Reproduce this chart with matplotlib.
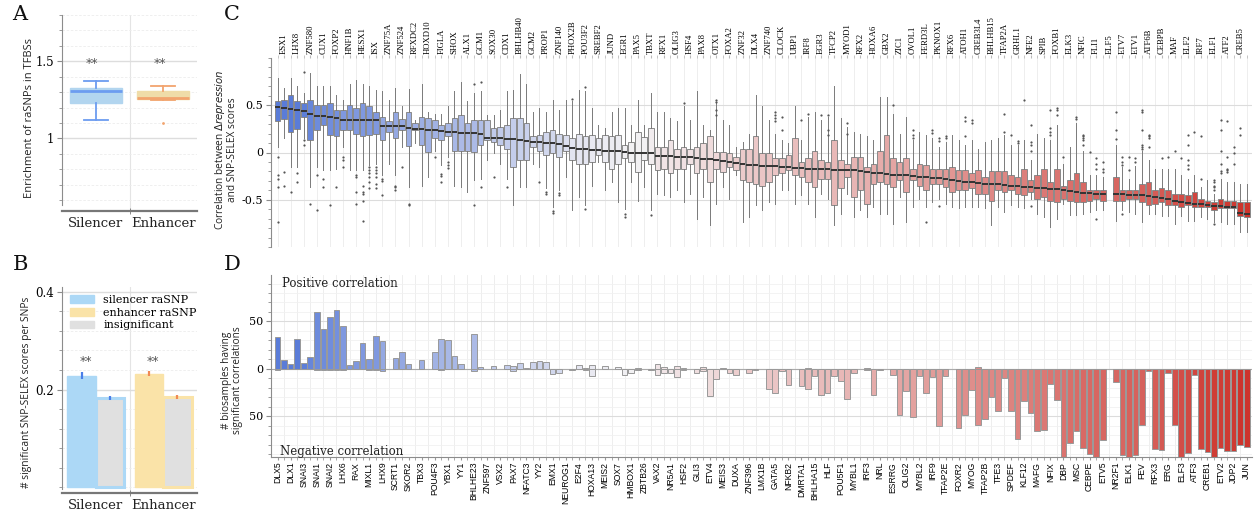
"""Repression-SNP panels: raSNP enrichment (A, B) and per-TF SNP-SELEX correlation (C, D)."""

import numpy as np
import matplotlib

matplotlib.use("Agg")
import matplotlib.pyplot as plt
from matplotlib.colors import LinearSegmentedColormap, TwoSlopeNorm
from matplotlib.ticker import MultipleLocator, FuncFormatter

# ---------------------------------------------------------------- data
GROUPS = ["Silencer", "Enhancer"]

# A: enrichment of raSNPs in TFBSs (box stats)
A_MED = [1.31, 1.265]
A_Q1 = [1.23, 1.255]
A_Q3 = [1.33, 1.31]
A_LO = [1.12, 1.25]
A_HI = [1.37, 1.34]
A_FLIERS = [[], [1.10]]

# B: significant SNP-SELEX scores per SNP
B_RASNP = [0.228, 0.232]
B_RASNP_ERR = [0.007, 0.005]
B_INSIG = [0.183, 0.184]
B_INSIG_ERR = [0.004, 0.004]

# TF order along C/D; C labels every odd slot on top, D every even slot at the bottom
BOTTOM_LABELS = [
    "DLX5", "DLX1", "SNAI3", "SNAI1", "SNAI2", "LHX6", "RAX", "MIXL1", "LHX9", "SCRT1",
    "SKOR2", "TBX3", "POU4F3", "YBX1", "YY1", "BHLHE23", "ZNF597", "VSX2", "PAX7", "NFATC3",
    "YY2", "EMX1", "NEUROG1", "E2F4", "HOXA13", "MEIS2", "SOX7", "HMBOX1", "ZBTB26", "VAX2",
    "NR5A1", "HSF2", "GLI3", "ETV4", "MEIS3", "DUXA", "ZNF396", "LMX1B", "GATA5", "NFKB2",
    "DMRTA1", "BHLHA15", "HLF", "POU5F1", "MYBL1", "IRF3", "NRL", "ESRRG", "OLIG2", "MYBL2",
    "IRF9", "TFAP2E", "FOXR2", "MYOG", "TFAP2B", "TFE3", "SPDEF", "KLF12", "MAFG", "NFIX",
    "DBP", "MSC", "CEBPE", "ETV5", "NR2F1", "ELK1", "FEV", "RFX3", "ERG", "ELF3",
    "ATF3", "CREB1", "ETV2", "JDP2", "JUN",
]
TOP_LABELS = [
    "ESX1", "LHX8", "ZNF580", "CUX1", "FOXP2", "HNF1B", "HESX1", "ISX", "ZNF75A", "ZNF524",
    "RFXDC2", "HOXD10", "FIGLA", "SHOX", "ALX1", "GCM1", "SOX30", "CDX1", "BHLHB40", "GCM2",
    "PROP1", "ZNF140", "PHOX2B", "POU3F2", "SREBF2", "JUND", "EGR1", "PAX5", "TBXT", "RFX1",
    "OLIG3", "HSF4", "PAX8", "OTX1", "FOXA2", "ZNF32", "DLX4", "ZNF740", "CLOCK", "UBP1",
    "IRF8", "EGR3", "TFCP2", "MYOD1", "RFX2", "HOXA6", "GBX2", "ZIC1", "OVOL1", "FERD3L",
    "PKNOX1", "RFX6", "ATOH1", "CREB3L4", "BHLHB15", "TFAP2A", "GRHL1", "NFE2", "SPIB", "FOXB1",
    "ELK3", "NFIC", "FLI1", "ELF5", "ETV7", "ETV1", "ATF6B", "CEBPB", "MAF", "ELF2",
    "IRF7", "ELF1", "ATF2", "CREB5",
]

nan = np.nan
# C: correlation between delta-repression and SNP-SELEX scores, one box per TF
MED = [
    0.48, 0.47, 0.46, 0.45, 0.44, 0.41, 0.39, 0.39, 0.38, 0.37,
    0.34, 0.34, 0.34, 0.34, 0.34, 0.34, 0.28, 0.28, 0.28, 0.28,
    0.26, 0.25, 0.25, 0.24, 0.24, 0.23, 0.22, 0.22, 0.21, 0.21,
    0.21, 0.20, 0.15, 0.15, 0.15, 0.14, 0.14, 0.13, 0.12, 0.11,
    0.11, 0.10, 0.10, 0.09, 0.07, 0.05, 0.04, 0.04, 0.03, 0.03,
    0.02, 0.02, 0.02, 0.01, 0.00, 0.00, 0.00, -0.01, -0.04, -0.04,
    -0.04, -0.05, -0.05, -0.05, -0.06, -0.07, -0.07, -0.08, -0.09, -0.10,
    -0.11, -0.12, -0.13, -0.13, -0.14, -0.14, -0.14, -0.15, -0.15, -0.16,
    -0.16, -0.17, -0.17, -0.17, -0.17, -0.18, -0.18, -0.19, -0.19, -0.20,
    -0.21, -0.22, -0.22, -0.23, -0.24, -0.24, -0.24, -0.25, -0.26, -0.26,
    -0.27, -0.27, -0.28, -0.29, -0.30, -0.31, -0.31, -0.32, -0.33, -0.33,
    -0.33, -0.34, -0.35, -0.35, -0.36, -0.37, -0.38, -0.38, -0.39, -0.39,
    -0.40, -0.41, -0.42, -0.43, -0.43, -0.44, -0.44, nan, -0.44, -0.44,
    -0.45, -0.45, -0.45, -0.46, -0.47, -0.48, -0.49, -0.51, -0.52, -0.53,
    -0.54, -0.55, -0.56, -0.57, -0.57, -0.58, -0.58, -0.64, -0.65,
]
Q1 = [
    0.33, 0.35, 0.22, 0.25, 0.38, 0.13, 0.24, 0.29, 0.18, 0.17,
    0.24, 0.24, 0.20, 0.17, 0.19, 0.20, 0.13, 0.22, 0.15, 0.24,
    0.07, 0.24, 0.08, 0.01, 0.15, 0.13, 0.17, 0.02, 0.02, 0.02,
    0.01, 0.08, 0.13, 0.11, 0.08, 0.04, -0.15, -0.08, -0.08, 0.06,
    0.02, -0.03, -0.01, -0.05, 0.02, -0.08, -0.12, -0.12, -0.10, -0.03,
    -0.10, -0.17, -0.12, -0.06, -0.10, -0.21, -0.08, -0.12, -0.19, -0.17,
    -0.22, -0.17, -0.17, -0.12, -0.22, -0.17, -0.31, -0.17, -0.21, -0.15,
    -0.19, -0.29, -0.31, -0.33, -0.35, -0.31, -0.24, -0.22, -0.19, -0.24,
    -0.26, -0.31, -0.37, -0.28, -0.28, -0.56, -0.38, -0.26, -0.47, -0.40,
    -0.54, -0.33, -0.31, -0.33, -0.37, -0.29, -0.42, -0.29, -0.35, -0.40,
    -0.33, -0.33, -0.37, -0.42, -0.40, -0.40, -0.38, -0.44, -0.44, -0.51,
    -0.40, -0.42, -0.40, -0.44, -0.45, -0.42, -0.49, -0.47, -0.51, -0.52,
    -0.49, -0.51, -0.52, -0.52, -0.51, -0.49, -0.51, nan, -0.51, -0.51,
    -0.49, -0.49, -0.52, -0.56, -0.54, -0.52, -0.56, -0.56, -0.58, -0.56,
    -0.58, -0.58, -0.58, -0.61, -0.59, -0.59, -0.59, -0.67, -0.68,
]
Q3 = [
    0.54, 0.56, 0.61, 0.54, 0.52, 0.56, 0.50, 0.50, 0.52, 0.45,
    0.45, 0.50, 0.47, 0.52, 0.49, 0.43, 0.38, 0.33, 0.43, 0.35,
    0.43, 0.31, 0.38, 0.36, 0.34, 0.29, 0.31, 0.36, 0.40, 0.31,
    0.34, 0.34, 0.34, 0.26, 0.27, 0.29, 0.36, 0.36, 0.31, 0.17,
    0.19, 0.22, 0.24, 0.20, 0.19, 0.15, 0.20, 0.17, 0.19, 0.15,
    0.19, 0.17, 0.19, 0.08, 0.11, 0.22, 0.16, 0.26, 0.06, 0.06,
    0.13, 0.04, 0.06, 0.04, 0.06, 0.10, 0.17, 0.01, 0.01, -0.01,
    -0.05, 0.04, 0.04, 0.17, -0.01, -0.01, -0.06, -0.06, -0.03, 0.15,
    -0.10, -0.06, 0.02, -0.08, -0.10, 0.13, -0.08, -0.12, -0.05, -0.05,
    -0.15, -0.12, 0.02, 0.19, -0.06, -0.10, -0.06, -0.17, -0.12, -0.13,
    -0.17, -0.17, -0.17, -0.15, -0.19, -0.19, -0.22, -0.19, -0.26, -0.20,
    -0.20, -0.20, -0.24, -0.26, -0.17, -0.29, -0.24, -0.17, -0.31, -0.17,
    -0.35, -0.29, -0.22, -0.31, -0.40, -0.40, -0.40, nan, -0.26, -0.40,
    -0.40, -0.40, -0.33, -0.31, -0.40, -0.38, -0.40, -0.44, -0.44, -0.45,
    -0.42, -0.49, -0.51, -0.52, -0.49, -0.51, -0.51, -0.52, -0.52,
]
LO = [
    0.06, 0.15, -0.15, -0.15, 0.15, -0.37, -0.15, -0.19, -0.19, -0.17,
    0.06, -0.19, -0.19, -0.19, -0.13, -0.12, -0.24, -0.12, -0.24, 0.06,
    -0.37, 0.10, -0.35, -0.26, 0.02, -0.13, -0.05, -0.35, -0.37, -0.42,
    -0.29, -0.28, -0.08, -0.01, -0.12, -0.28, -0.56, -0.37, -0.37, -0.12,
    -0.15, -0.38, -0.58, -0.40, -0.26, -0.61, -0.47, -0.56, -0.35, -0.10,
    -0.40, -0.31, -0.52, -0.60, -0.31, -0.51, -0.37, -0.61, -0.44, -0.45,
    -0.47, -0.40, -0.52, -0.44, -0.70, -0.47, -0.77, -0.54, -0.37, -0.49,
    -0.24, -0.74, -0.68, -0.56, -0.61, -0.52, -0.54, -0.40, -0.40, -0.54,
    -0.45, -0.54, -0.68, -0.44, -0.49, -0.77, -0.65, -0.44, -0.68, -0.61,
    -0.68, -0.58, -0.65, -0.65, -0.76, -0.47, -0.74, -0.58, -0.49, -0.58,
    -0.52, -0.49, -0.54, -0.58, -0.59, -0.58, -0.58, -0.58, -0.59, -0.77,
    -0.58, -0.63, -0.56, -0.58, -0.59, -0.49, -0.65, -0.68, -0.79, -0.70,
    -0.54, -0.66, -0.66, -0.65, -0.63, -0.61, -0.61, nan, -0.72, -0.61,
    -0.63, -0.65, -0.74, -0.65, -0.65, -0.67, -0.67, -0.76, -0.67, -0.72,
    -0.72, -0.68, -0.70, -0.74, -0.74, -0.76, -0.76, -0.84, -0.84,
]
HI = [
    0.79, 0.68, 0.79, 0.70, 0.63, 0.84, 0.70, 0.70, 0.70, 0.61,
    0.56, 0.73, 0.77, 0.73, 0.70, 0.66, 0.65, 0.56, 0.68, 0.49,
    0.67, 0.34, 0.73, 0.43, 0.41, 0.41, 0.49, 0.65, 0.75, 0.54,
    0.63, 0.65, 0.40, 0.40, 0.45, 0.65, 0.66, 0.83, 0.73, 0.43,
    0.47, 0.43, 0.56, 0.45, 0.56, 0.54, 0.66, 0.65, 0.47, 0.29,
    0.26, 0.43, 0.47, 0.47, 0.29, 0.56, 0.29, 0.63, 0.43, 0.43,
    0.36, 0.33, 0.49, 0.34, 0.65, 0.29, 0.24, 0.52, 0.34, 0.29,
    0.06, 0.11, 0.20, 0.61, 0.49, 0.34, 0.20, 0.13, 0.10, 0.49,
    0.13, 0.38, 0.43, 0.34, 0.38, 0.70, 0.36, 0.27, 0.22, 0.20,
    0.17, 0.13, 0.59, 0.59, 0.41, 0.20, 0.38, 0.13, 0.22, 0.18,
    0.15, 0.06, 0.11, 0.18, 0.13, 0.08, 0.13, 0.04, 0.11, 0.13,
    0.15, 0.18, 0.08, 0.08, 0.13, -0.08, 0.20, 0.15, 0.13, 0.29,
    -0.12, 0.06, 0.31, 0.02, -0.24, -0.24, -0.26, nan, 0.08, -0.15,
    -0.28, -0.14, 0.02, -0.08, -0.17, -0.17, -0.17, -0.17, -0.24, -0.28,
    -0.24, -0.37, -0.29, -0.44, -0.28, -0.31, -0.31, -0.33, -0.33,
]
FLIERS = {
    0: [-0.05, -0.24, -0.28, -0.37, -0.74], 1: [-0.21, -0.35], 2: [-0.42],
    3: [-0.22, -0.31], 4: [0.13, 0.08, 0.85], 5: [-0.54], 6: [-0.24, -0.61],
    7: [-0.28, -0.37], 8: [-0.56], 9: [-0.36], 10: [-0.05, -0.08, -0.15],
    12: [-0.24, -0.26, -0.42, -0.54], 13: [-0.35, -0.42, -0.44, -0.51, -0.72],
    14: [-0.15, -0.19, -0.22, -0.26, -0.31, -0.38],
    15: [-0.15, -0.19, -0.22, -0.26, -0.33, -0.38], 16: [-0.28, -0.30, -0.45],
    18: [-0.35, -0.37, -0.40], 19: [-0.15], 20: [-0.54, -0.56], 24: [-0.05],
    25: [-0.23, -0.25, -0.31], 26: [-0.10, -0.13, -0.16], 30: [-0.56, 0.73],
    31: [0.75, -0.37], 33: [-0.26], 35: [-0.37], 40: [-0.31], 41: [-0.42, -0.44],
    42: [-0.62, -0.64], 43: [-0.43, -0.45], 45: [0.57], 47: [0.69, -0.60],
    53: [-0.65, -0.68], 57: [-0.66], 62: [0.52], 67: [0.56, 0.53, 0.45, 0.40],
    76: [0.43, 0.40, 0.36, 0.33], 77: [0.38, 0.24], 80: [0.34], 81: [0.41],
    83: [0.40], 84: [0.40, 0.24, 0.18], 87: [0.31, 0.20], 94: [0.50],
    97: [0.24, 0.18, 0.15], 99: [-0.74], 100: [0.24, 0.21], 101: [0.15, 0.12, -0.57],
    102: [0.17, 0.15], 105: [0.38, 0.33, 0.17], 106: [0.34, 0.31], 111: [0.41, 0.22],
    112: [0.18], 113: [0.12, 0.10], 114: [0.56],
    115: [0.29, 0.11, 0.08, 0.02, -0.57], 118: [0.45, 0.26, 0.22, 0.18],
    119: [0.47, 0.45, 0.40], 120: [-0.05], 122: [0.38, 0.35],
    123: [0.18, 0.17, 0.15, 0.13, 0.08], 124: [0.01], 125: [-0.06, -0.12, -0.17, -0.70],
    126: [-0.10, -0.17, -0.21], 128: [0.43, 0.24, 0.14],
    129: [-0.05, -0.10, -0.13, -0.65], 130: [-0.05, -0.19], 131: [-0.06, -0.10],
    132: [0.45, 0.43, 0.24, 0.08, 0.06, 0.04], 133: [0.18, 0.17, 0.15, 0.06],
    135: [-0.06], 136: [-0.05], 137: [0.02], 138: [-0.06],
    139: [0.18, 0.08, -0.08, -0.13, -0.17], 140: [0.22], 141: [0.17, -0.28],
    143: [-0.29, -0.31, -0.35, -0.37, -0.40, -0.76],
    144: [0.34, 0.24, 0.02, -0.12, -0.20, -0.22],
    145: [0.33, -0.05, -0.17, -0.19, -0.21], 146: [0.06, -0.01, -0.12], 147: [0.26, 0.18],
}

# D: number of biosamples with significant positive / negative correlation
POS = [
    34, 9, 5, 32, 6, 13, 60, 42, 55, 62,
    45, 4, 8, 27, 10, 35, 29, 0, 11, 18,
    5, 0, 9, 0, 18, 31, 30, 14, 5, 0,
    37, 2, 0, 3, 0, 4, 3, 6, 1, 7,
    8, 7, 0, 0, 0, 0, 4, 1, 4, 0,
    3, 0, 2, 0, 0, 1, 0, 0, 5, 2,
    0, 3, 1, 0, 0, 2, 0, 0, 1, 0,
    0, 0, 0, 0, 0, 0, 0, 0, 0, 0,
    0, 1, 0, 0, 0, 0, 0, 0, 0, 0,
    1, 0, 0, 0, 0, 0, 0, 0, 0, 0,
    0, 0, 0, 0, 0, 0, 0, 2, 0, 0,
    0, 0, 0, 0, 0, 0, 0, 0, 0, 0,
    0, 0, 0, 0, 0, 0, 0, nan, 0, 0,
    0, 0, 0, 0, 0, 0, 0, 0, 0, 0,
    0, 0, 0, 0, 0, 0, 0, 0, 0,
]
NEG = [
    1, 0, 0, 0, 0, 0, 1, 1, 1, 1,
    1, 0, 0, 0, 1, 1, 2, 0, 0, 0,
    0, 0, 0, 0, 0, 1, 0, 0, 0, 0,
    2, 0, 0, 0, 0, 0, 2, 0, 0, 0,
    0, 0, 5, 4, 0, 1, 0, 1, 8, 0,
    0, 0, 0, 6, 4, 1, 0, 1, 6, 4,
    4, 9, 1, 0, 4, 2, 29, 11, 0, 4,
    6, 0, 4, 1, 0, 21, 25, 2, 17, 0,
    18, 21, 8, 28, 26, 8, 13, 32, 4, 0,
    1, 28, 1, 0, 6, 49, 23, 51, 8, 25,
    9, 60, 8, 0, 62, 49, 22, 59, 53, 30,
    44, 10, 44, 74, 34, 47, 66, 65, 16, 33,
    95, 78, 66, 84, 90, 96, 75, nan, 14, 91,
    96, 91, 59, 2, 85, 86, 4, 59, 94, 89,
    7, 85, 88, 96, 84, 87, 87, 80, 82,
]

# ---------------------------------------------------------------- style
SERIF = ["DejaVu Serif"]
TIMES = ["Liberation Serif", "DejaVu Serif"]
NARROW = ["Liberation Sans Narrow", "Liberation Sans", "DejaVu Sans"]
SANS = ["Open Sans", "DejaVu Sans"]
GRID = "#e4e4e4"
SPINE = "#8c8c8c"

W, H = 1254, 520


def px_box(left, top, right, bottom):
    """Axes rect from pixel edges of the 1254x520 canvas."""
    return [left / W, 1 - bottom / H, (right - left) / W, (bottom - top) / H]


def style_small_axes(ax):
    for side in ("top", "right"):
        ax.spines[side].set_visible(False)
    ax.spines["left"].set_color(SPINE)
    ax.spines["bottom"].set_color("#777777")
    ax.spines["bottom"].set_linewidth(1.6)
    ax.set_xlim(-0.5, 1.5)
    ax.set_xticks([0, 1], GROUPS, family=SERIF, fontsize=9.5, color="#222222")
    ax.set_xticks([0.5], minor=True)
    ax.tick_params(axis="x", which="major", length=0, pad=4)
    ax.tick_params(axis="x", which="minor", length=4, color="#777777", direction="inout")
    ax.tick_params(axis="y", which="both", color=SPINE, labelsize=8.5, pad=2)
    ax.tick_params(axis="y", which="minor", length=2)
    for lab in ax.get_yticklabels():
        lab.set_family(SERIF)
    ax.axvline(0.5, color=GRID, lw=0.8, zorder=0)
    ax.grid(True, axis="y", which="major", color="#dddddd", lw=1.0, zorder=0)
    ax.grid(True, axis="y", which="minor", color="#ececec", lw=0.6, ls=(0, (3, 2)), zorder=0)
    ax.set_axisbelow(True)


fig = plt.figure(figsize=(12.54, 5.2), dpi=100)

# ---------------------------------------------------------------- A
ax_a = fig.add_axes(px_box(62, 15, 197, 211))
a_fill = ["#b2d5ef", "#efdca8"]
a_line = ["#6c9cf0", "#f2a46e"]
a_stats = [
    dict(med=A_MED[i], q1=A_Q1[i], q3=A_Q3[i], whislo=A_LO[i], whishi=A_HI[i], fliers=A_FLIERS[i])
    for i in range(2)
]
bp = ax_a.bxp(a_stats, positions=[0, 1], widths=0.77, patch_artist=True, capwidths=0.35)
for i in range(2):
    bp["boxes"][i].set(facecolor=a_fill[i], edgecolor=a_fill[i], lw=1)
    bp["medians"][i].set(color=a_line[i], lw=2)
    for art in bp["whiskers"][2 * i:2 * i + 2] + bp["caps"][2 * i:2 * i + 2]:
        art.set(color=a_line[i], lw=1.3)
    bp["fliers"][i].set(marker="o", markersize=2, markerfacecolor=a_line[i], markeredgecolor="none")
    ax_a.text(i - 0.05, 1.485, "**", ha="center", va="center", fontsize=9, color="#555555")
ax_a.set_ylim(0.53, 1.8)
ax_a.spines["left"].set_bounds(0.57, 1.8)
ax_a.set_yticks([1, 1.5], ["1", "1.5"])
ax_a.yaxis.set_minor_locator(MultipleLocator(0.1))
style_small_axes(ax_a)

# ---------------------------------------------------------------- B
ax_b = fig.add_axes(px_box(62, 287, 197, 493))
b_fill = ["#acd8f6", "#fae3a8"]
b_err = ["#4a7fe8", "#f08a55"]
gx = np.arange(2)
ax_b.bar(gx - 0.21, B_RASNP, width=0.42, color=b_fill, edgecolor=b_fill, lw=1, zorder=2)
ax_b.bar(gx + 0.21, B_INSIG, width=0.42, color="#e0e0e0", edgecolor=b_fill, lw=2.2, zorder=2)
for i in range(2):
    ax_b.errorbar(gx[i] - 0.21, B_RASNP[i], yerr=B_RASNP_ERR[i], fmt="none",
                  ecolor=b_err[i], elinewidth=1.6, capsize=0, zorder=3)
    ax_b.errorbar(gx[i] + 0.21, B_INSIG[i], yerr=B_INSIG_ERR[i], fmt="none",
                  ecolor=b_err[i], elinewidth=1.6, capsize=0, zorder=3)
    ax_b.text(gx[i] - 0.15, 0.258, "**", ha="center", va="center", fontsize=9, color="#555555")
legend_handles = [
    matplotlib.patches.Patch(color="#acd8f6", label="silencer raSNP"),
    matplotlib.patches.Patch(color="#fae3a8", label="enhancer raSNP"),
    matplotlib.patches.Patch(color="#e0e0e0", label="insignificant"),
]
ax_b.legend(handles=legend_handles, loc="upper left", bbox_to_anchor=(0.0, 1.0), frameon=False,
            prop={"family": SERIF, "size": 8}, handlelength=2.2, handleheight=0.7,
            labelspacing=0.25, borderaxespad=0.3)
ax_b.set_ylim(-0.012, 0.41)
ax_b.spines["left"].set_bounds(-0.003, 0.41)
ax_b.set_yticks([0.2, 0.4], ["0.2", "0.4"])
ax_b.yaxis.set_minor_locator(MultipleLocator(0.04))
style_small_axes(ax_b)

# ---------------------------------------------------------------- C / D shared
names = []
for i, b in enumerate(BOTTOM_LABELS):
    names.append(b)
    if i < len(TOP_LABELS):
        names.append(TOP_LABELS[i])
n_tf = len(names)
slots = np.arange(n_tf)

cmap = LinearSegmentedColormap.from_list("rep", ["#cd342c", "#f3f1f3", "#5a7cd8"])
norm = TwoSlopeNorm(vmin=-0.6, vcenter=0.0, vmax=0.45)
colors = [cmap(norm(m)) if not np.isnan(m) else (1, 1, 1, 0) for m in MED]

# ---------------------------------------------------------------- C
ax_c = fig.add_axes(px_box(271, 58, 1252, 247))
stats, pos, fills = [], [], []
for k in range(n_tf):
    if np.isnan(MED[k]):
        continue
    stats.append(dict(med=MED[k], q1=Q1[k], q3=Q3[k], whislo=LO[k], whishi=HI[k],
                      fliers=FLIERS.get(k, [])))
    pos.append(k)
    fills.append(colors[k])
bp = ax_c.bxp(
    stats, positions=pos, widths=0.86, patch_artist=True, showcaps=False,
    boxprops=dict(edgecolor="#8a8a8a", lw=0.7),
    whiskerprops=dict(color="#7a7a7a", lw=0.7),
    medianprops=dict(color="#333333", lw=1.4),
    flierprops=dict(marker="o", markersize=1.6, markerfacecolor="#555555", markeredgecolor="none"),
)
for patch, fc in zip(bp["boxes"], fills):
    patch.set_facecolor(fc)

ax_c.set_xlim(-1.0, n_tf - 0.2)
ax_c.set_ylim(-1.0, 1.0)
for side in ("top", "right", "bottom"):
    ax_c.spines[side].set_visible(False)
ax_c.spines["left"].set_color(SPINE)
ax_c.xaxis.tick_top()
ax_c.set_xticks(slots[1::2], names[1::2], rotation=90, family=TIMES, fontsize=6.2)
ax_c.set_xticks(slots, minor=True)
ax_c.tick_params(axis="x", which="major", length=2, color="#bbbbbb", pad=1)
ax_c.tick_params(axis="x", which="minor", length=2, color="#bbbbbb")
ax_c.set_yticks([-0.5, 0, 0.5], ["-0.5", "0", "0.5"])
ax_c.yaxis.set_minor_locator(MultipleLocator(0.1))
ax_c.tick_params(axis="y", which="both", color=SPINE, labelsize=8, pad=2)
ax_c.tick_params(axis="y", which="minor", length=2)
for lab in ax_c.get_yticklabels():
    lab.set_family(SERIF)
ax_c.grid(True, axis="x", which="minor", color="#ebebeb", lw=0.6, zorder=0)
ax_c.grid(True, axis="y", which="major", color="#dcdcdc", lw=0.8, zorder=0)
ax_c.set_axisbelow(True)

# ---------------------------------------------------------------- D
ax_d = fig.add_axes(px_box(271, 275, 1252, 457))
pos_arr = np.array(POS, dtype=float)
neg_arr = np.array(NEG, dtype=float)
keep_p = pos_arr > 0
keep_n = neg_arr > 0
bar_colors = np.array(colors)
ax_d.bar(slots[keep_p], pos_arr[keep_p], width=0.86, color=bar_colors[keep_p],
         edgecolor="#999999", lw=0.7, zorder=2)
ax_d.bar(slots[keep_n], -neg_arr[keep_n], width=0.86, color=bar_colors[keep_n],
         edgecolor="#999999", lw=0.7, zorder=2)
ax_d.axhline(0, color="#aaaaaa", lw=0.8, zorder=1)
ax_d.set_xlim(-1.0, n_tf - 0.2)
ax_d.set_ylim(-93, 99)
for side in ("top", "right"):
    ax_d.spines[side].set_visible(False)
ax_d.spines["left"].set_color(SPINE)
ax_d.spines["bottom"].set_color(SPINE)
ax_d.set_xticks(slots[0::2], names[0::2], rotation=90, family=NARROW, fontsize=6.2)
ax_d.set_xticks(slots, minor=True)
ax_d.tick_params(axis="x", which="both", length=2.5, color="#999999", pad=1)
ax_d.set_yticks([-50, 0, 50])
ax_d.yaxis.set_major_formatter(FuncFormatter(lambda v, _: f"{abs(v):.0f}"))
ax_d.yaxis.set_minor_locator(MultipleLocator(10))
ax_d.tick_params(axis="y", which="both", color=SPINE, labelsize=8, pad=2)
ax_d.tick_params(axis="y", which="minor", length=2)
for lab in ax_d.get_yticklabels():
    lab.set_family(SERIF)
ax_d.grid(True, axis="x", which="minor", color="#ebebeb", lw=0.6, zorder=0)
ax_d.grid(True, axis="y", which="major", color="#dcdcdc", lw=0.8, zorder=0)
ax_d.grid(True, axis="y", which="minor", color="#f1f1f1", lw=0.6, zorder=0)
ax_d.set_axisbelow(True)
ax_d.text(0.011, 0.955, "Positive correlation", transform=ax_d.transAxes, ha="left", va="center",
          family=SERIF, fontsize=8.5, color="#222222")
ax_d.text(0.009, 0.028, "Negative correlation", transform=ax_d.transAxes, ha="left", va="center",
          family=SERIF, fontsize=8.5, color="#222222")

# ---------------------------------------------------------------- labels
fig.text(29 / W, 1 - 118 / H, "Enrichment of raSNPs in TFBSs", rotation=90, ha="center",
         va="center", family=SANS, fontsize=8, color="#222222")
fig.text(27 / W, 1 - 392 / H, "# significant SNP-SELEX scores per SNPs", rotation=90,
         ha="center", va="center", family=SANS, fontsize=7.4, color="#222222")
fig.text(226 / W, 1 - 150 / H, "Correlation between $\\it{\\Delta repression}$\nand SNP-SELEX scores",
         rotation=90, ha="center", va="center", multialignment="center", family=SANS,
         fontsize=7.3, color="#222222", linespacing=1.0)
fig.text(232 / W, 1 - 380 / H, "# biosamples having\nsignificant correlations", rotation=90,
         ha="center", va="center", multialignment="center", family=SANS, fontsize=7.3,
         color="#222222", linespacing=1.0)

for letter, x, y in (("A", 20, 15), ("B", 20, 264), ("C", 232, 15), ("D", 232, 265)):
    fig.text(x / W, 1 - y / H, letter, ha="center", va="center", family=SERIF, fontsize=15,
             color="#111111")

fig.savefig("out.png", dpi=100)
